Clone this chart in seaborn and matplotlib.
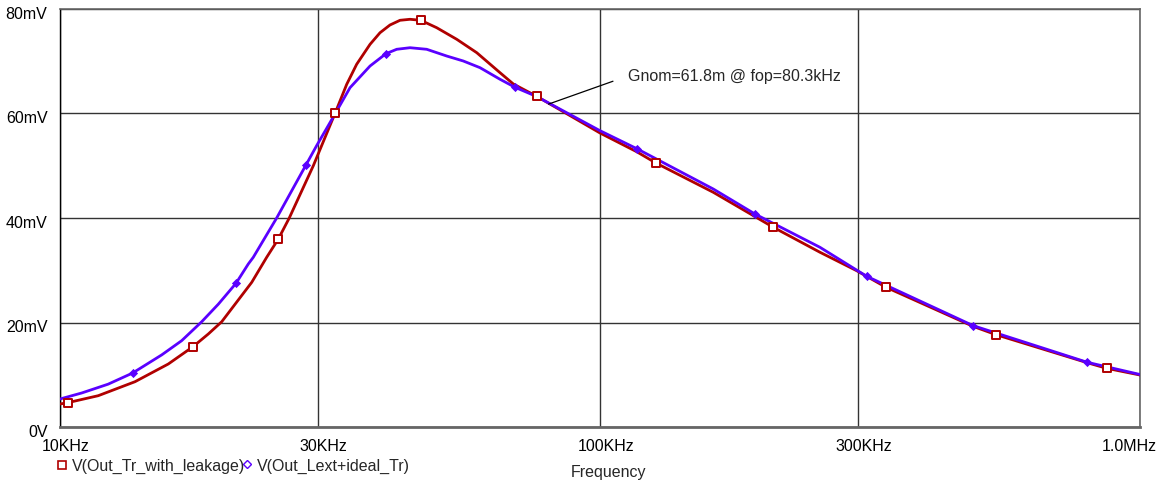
import matplotlib
matplotlib.use("Agg")
import matplotlib.pyplot as plt
import matplotlib.transforms as mtransforms
import pandas as pd
import seaborn as sns

# Frequency response of the two transformer models (frequency in kHz, output in mV)
freq_leak = [10.0, 10.33, 11.77, 13.77, 15.87, 17.63, 18.82, 19.93, 22.65, 24.14,
             25.37, 26.58, 29.45, 32.30, 33.96, 35.43, 37.51, 39.14, 40.84, 42.63,
             44.48, 46.56, 49.84, 54.29, 59.12, 65.29, 69.10, 76.34, 100.0, 116.9,
             126.9, 162.1, 209.4, 255.5, 298.8, 338.6, 491.2, 541.2, 798.8, 867.5,
             1000.0]
v_leak = [4.40, 4.65, 5.99, 8.67, 12.06, 15.37, 17.80, 20.15, 27.69, 32.48,
          35.98, 40.00, 50.00, 60.00, 65.59, 69.42, 73.24, 75.46, 76.94, 77.84,
          78.03, 77.84, 76.42, 74.20, 71.64, 67.81, 65.65, 63.29, 56.27, 52.69,
          50.53, 44.92, 38.22, 33.44, 29.91, 26.74, 19.25, 17.67, 12.30, 11.23,
          9.95]
leak_marker_idx = [1, 5, 10, 13, 21, 27, 30, 32, 35, 37, 39]

freq_ideal = [10.0, 10.97, 12.28, 13.63, 15.43, 16.80, 18.30, 19.64, 21.18, 22.32,
              22.80, 25.19, 28.54, 29.87, 32.30, 34.44, 37.51, 40.15, 42.03, 44.48,
              47.76, 52.02, 55.82, 59.95, 65.29, 69.62, 76.34, 100.0, 117.3, 162.1,
              193.6, 255.5, 311.8, 491.2, 798.8, 1000.0]
v_ideal = [5.36, 6.51, 8.20, 10.33, 13.80, 16.52, 20.15, 23.50, 27.50, 31.20,
           32.48, 40.00, 50.14, 53.84, 59.90, 64.94, 69.09, 71.45, 72.29, 72.59,
           72.29, 71.00, 70.05, 68.77, 66.55, 65.01, 63.25, 56.71, 53.21, 45.55,
           40.77, 34.39, 28.84, 19.39, 12.38, 10.05]
ideal_marker_idx = [3, 8, 12, 17, 25, 28, 30, 32, 33, 34]

x_ticks = [10, 30, 100, 300, 1000]
x_tick_labels = ["10KHz", "30KHz", "100KHz", "300KHz", "1.0MHz"]
y_ticks = [0, 20, 40, 60, 80]
y_tick_labels = ["0V", "20mV", "40mV", "60mV", "80mV"]
series_names = ["V(Out_Tr_with_leakage)", "V(Out_Lext+ideal_Tr)"]
x_title = "Frequency"

note_text = "Gnom=61.8m @ fop=80.3kHz"
op_freq, op_gain = 80.3, 61.8
note_freq, note_gain = 112.7, 67.2

RED = "#b00000"
BLUE = "#5a00ff"
FS = 11.5

sns.set_style("white")
plt.rcParams["font.family"] = ["Liberation Sans", "DejaVu Sans"]

W, H = 1160, 485
fig = plt.figure(figsize=(W / 100, H / 100), dpi=100)
ax = fig.add_axes([60 / W, 57 / H, 1080 / W, 418 / H])

leak = pd.DataFrame({"f": freq_leak, "v": v_leak})
ideal = pd.DataFrame({"f": freq_ideal, "v": v_ideal})

sns.lineplot(data=leak, x="f", y="v", ax=ax, color=RED, lw=2.0,
             sort=False, estimator=None, zorder=3)
sns.lineplot(data=ideal, x="f", y="v", ax=ax, color=BLUE, lw=2.0,
             sort=False, estimator=None, zorder=4)

sns.scatterplot(data=ideal.iloc[ideal_marker_idx], x="f", y="v", ax=ax,
                marker="D", s=22, color=BLUE, linewidth=0, zorder=5)
sns.scatterplot(data=leak.iloc[leak_marker_idx], x="f", y="v", ax=ax,
                marker="s", s=36, color="white", edgecolor=RED,
                linewidth=1.4, zorder=6)

ax.set_xscale("log")
ax.set_xlim(10, 1000)
ax.set_ylim(0, 80)
ax.set_xticks(x_ticks)
ax.set_xticklabels(x_tick_labels)
ax.minorticks_off()
ax.set_yticks(y_ticks)
ax.set_yticklabels(y_tick_labels)
ax.set_xlabel("")
ax.set_ylabel("")

ax.grid(True, color="#333333", lw=1.0, zorder=1)
ax.set_axisbelow(True)
for side in ["top", "right"]:
    ax.spines[side].set_color("#666666")
    ax.spines[side].set_linewidth(1.2)
ax.spines["bottom"].set_color("#666666")
ax.spines["bottom"].set_linewidth(2.0)
ax.spines["left"].set_color("black")
ax.spines["left"].set_linewidth(1.0)

ax.tick_params(axis="y", direction="out", length=4, width=1, color="black",
               pad=5, labelsize=FS, labelcolor="black")
ax.tick_params(axis="x", direction="out", length=5, width=1, color="#444444",
               pad=3, labelsize=FS, labelcolor="black")

# PSpice-style placement of the frequency labels
for lab in ax.get_xticklabels():
    shift = mtransforms.ScaledTranslation(6 / 100, 0, fig.dpi_scale_trans)
    lab.set_transform(lab.get_transform() + shift)
last = ax.get_xticklabels()[-1]
last.set_transform(last.get_transform() +
                   mtransforms.ScaledTranslation(-17 / 100, 0, fig.dpi_scale_trans))
for lab in ax.get_yticklabels():
    lab.set_transform(lab.get_transform() +
                      mtransforms.ScaledTranslation(0, -3 / 100, fig.dpi_scale_trans))

ax.annotate(note_text, xy=(op_freq, op_gain), xytext=(note_freq, note_gain),
            textcoords="data", ha="left", va="center", fontsize=FS,
            arrowprops=dict(arrowstyle="-", color="black", lw=0.9,
                            shrinkA=9, shrinkB=0, relpos=(0, 0.5)),
            zorder=7)

# Legend entries below the plot
fig.text(608 / W, 1 - 473 / H, x_title, ha="center", va="center", fontsize=FS)
fig.add_artist(plt.Line2D([62 / W], [1 - 466 / H], marker="s", ms=5.5,
                          mfc="white", mec=RED, mew=1.2, ls="none"))
fig.text(72 / W, 1 - 466 / H, series_names[0], ha="left", va="center", fontsize=FS)
fig.add_artist(plt.Line2D([247 / W], [1 - 465 / H], marker="D", ms=4,
                          mfc="white", mec=BLUE, mew=1.0, ls="none"))
fig.text(257 / W, 1 - 466 / H, series_names[1], ha="left", va="center", fontsize=FS)

fig.savefig("out.png", dpi=100)
